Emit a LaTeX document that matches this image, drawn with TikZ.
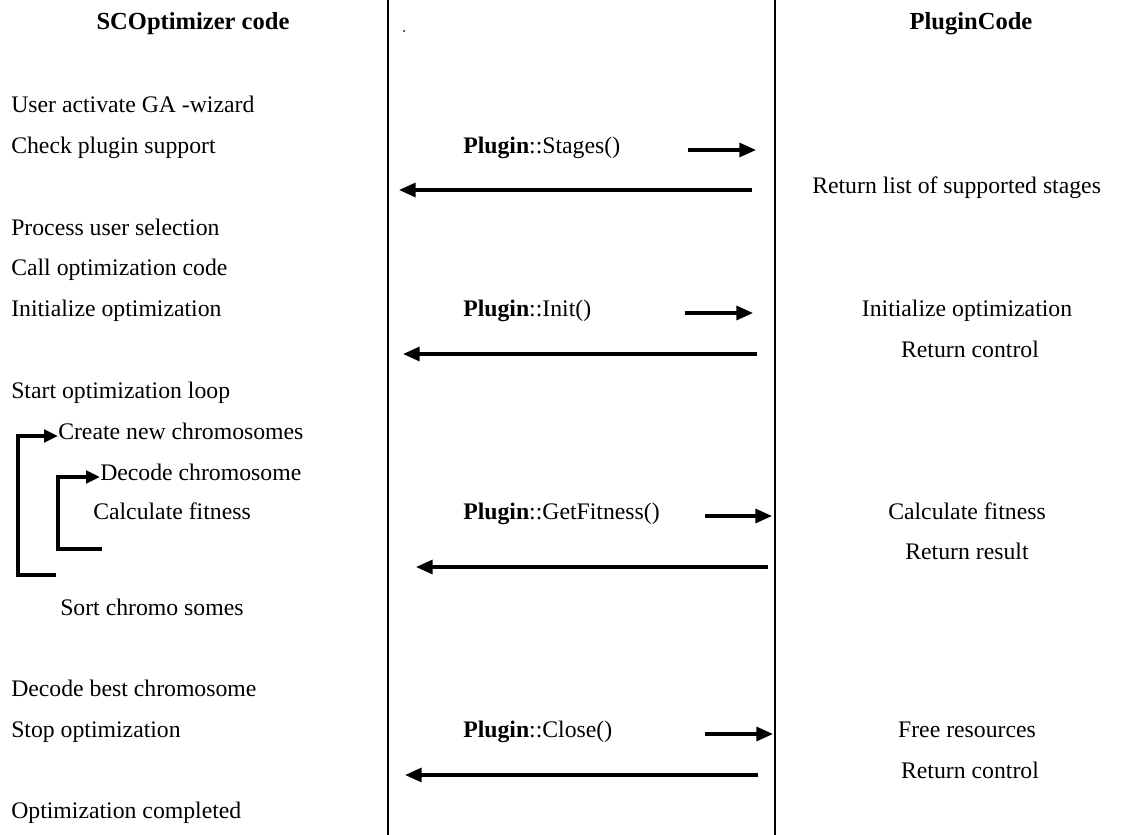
\documentclass[tikz,border=0pt]{standalone}
\usepackage{fontspec}
\setmainfont{Liberation Serif}
\usetikzlibrary{arrows.meta}
\begin{document}
\begin{tikzpicture}[x=0.75pt,y=-0.75pt,
  txt/.style={inner sep=0pt,font=\fontsize{17.8}{21}\selectfont,text height=0.68em,text depth=0.2em},
  lt/.style={txt,anchor=west},
  ct/.style={txt,anchor=center},
  hd/.style={txt,anchor=center,font=\fontsize{18.4}{22}\selectfont\bfseries},
  life/.style={line width=1.3pt},
  msg/.style={line width=2.4pt,-{Triangle[length=12.5pt,width=10.5pt]}},
  loopa/.style={line width=2.3pt,-{Triangle[length=10.5pt,width=9.5pt]}}]
\useasboundingbox (0,0) rectangle (1122,835);
% lifelines
\coordinate (L1t) at (388,0); \coordinate (L1b) at (388,835);
\coordinate (L2t) at (775,0); \coordinate (L2b) at (775,835);
\draw[life] (L1t) -- (L1b);
\draw[life] (L2t) -- (L2b);
\fill (404,31) circle (0.75pt);
% headers
\node[hd] (h1) at (193,26) {SCOptimizer code};
\node[hd] (h2) at (971,26) {PluginCode};
% left column
\node[lt] (a1) at (11,109) {User activate GA -wizard};
\node[lt] (a2) at (11,150) {Check plugin support};
\node[lt] (a3) at (11,232) {Process user selection};
\node[lt] (a4) at (11,272) {Call optimization code};
\node[lt] (a5) at (11,313) {Initialize optimization};
\node[lt] (a6) at (11,395) {Start optimization loop};
\node[lt] (a7) at (58,436) {Create new chromosomes};
\node[lt] (a8) at (100,477) {Decode chromosome};
\node[lt] (a9) at (93,516) {Calculate fitness};
\node[lt] (a10) at (60,612) {Sort chromo somes};
\node[lt] (a11) at (11,693) {Decode best chromosome};
\node[lt] (a12) at (11,734) {Stop optimization};
\node[lt] (a13) at (11,815) {Optimization completed};
% middle calls
\node[lt] (m1) at (463,150) {\textbf{Plugin}::Stages()};
\node[lt] (m2) at (463,313) {\textbf{Plugin}::Init()};
\node[lt] (m3) at (463,516) {\textbf{Plugin}::GetFitness()};
\node[lt] (m4) at (463,734) {\textbf{Plugin}::Close()};
% right column
\node[lt] (r1) at (812,190) {Return list of supported stages};
\node[ct] (r2) at (967,313) {Initialize optimization};
\node[ct] (r3) at (970,354) {Return control};
\node[ct] (r4) at (967,516) {Calculate fitness};
\node[ct] (r5) at (967,556) {Return result};
\node[ct] (r6) at (967,734) {Free resources};
\node[ct] (r7) at (970,775) {Return control};
% message arrows
\coordinate (s1a) at (688,150); \coordinate (s1b) at (756,150);
\coordinate (s2a) at (752,190); \coordinate (s2b) at (399,190);
\coordinate (i1a) at (685,313); \coordinate (i1b) at (753,313);
\coordinate (i2a) at (757,354); \coordinate (i2b) at (403,354);
\coordinate (g1a) at (705,516); \coordinate (g1b) at (772,516);
\coordinate (g2a) at (768,567); \coordinate (g2b) at (416,567);
\coordinate (c1a) at (705,734); \coordinate (c1b) at (773,734);
\coordinate (c2a) at (758,775); \coordinate (c2b) at (405,775);
\draw[msg] (s1a) -- (s1b);
\draw[msg] (s2a) -- (s2b);
\draw[msg] (i1a) -- (i1b);
\draw[msg] (i2a) -- (i2b);
\draw[msg] (g1a) -- (g1b);
\draw[msg] (g2a) -- (g2b);
\draw[msg] (c1a) -- (c1b);
\draw[msg] (c2a) -- (c2b);
% loops
\coordinate (o1) at (56,575); \coordinate (o2) at (18,575);
\draw[loopa] (o1) -- (o2) |- (a7.west);
\coordinate (n1) at (102,549); \coordinate (n2) at (58,549);
\draw[loopa] (n1) -- (n2) |- (a8.west);
\end{tikzpicture}
\end{document}
